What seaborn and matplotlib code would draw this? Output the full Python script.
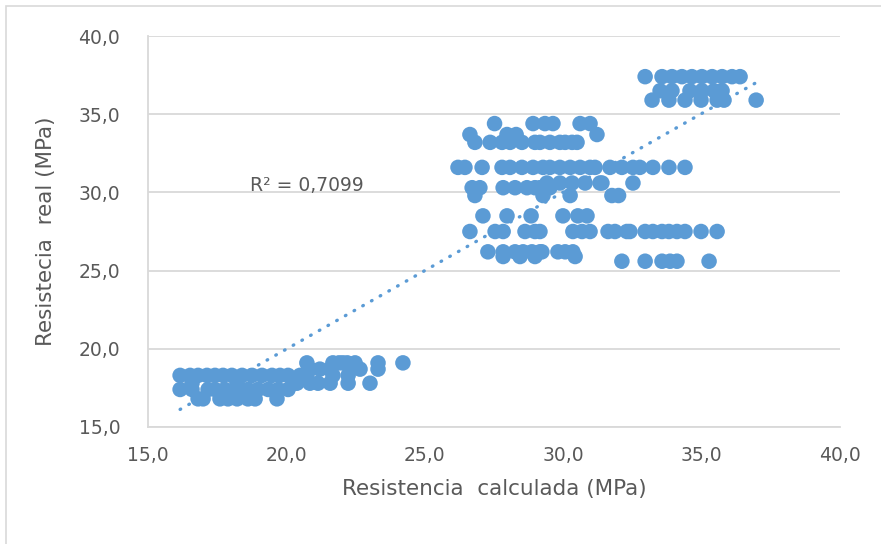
import numpy as np
import pandas as pd
import matplotlib
matplotlib.use("Agg")
import matplotlib.pyplot as plt
from matplotlib.patches import Rectangle
import seaborn as sns

# ---- data: calculated strength (x) grouped by measured strength (y) ----
real_levels = [37.4, 36.5, 35.9, 34.4, 33.7, 33.2, 31.6, 30.6, 30.3, 29.8,
               28.5, 27.5, 26.2, 25.9, 25.6,
               19.1, 18.7, 18.3, 17.8, 17.4, 16.8]

calc_374 = [32.96, 33.57, 33.93, 34.29, 34.65, 35.01, 35.38, 35.74, 36.10, 36.39]
calc_365 = [33.50, 33.93, 34.58, 35.01, 35.45, 35.74]
calc_359 = [33.21, 33.82, 34.40, 34.98, 35.56, 35.81, 36.97]
calc_344 = [27.52, 28.91, 29.34, 29.63, 30.61, 30.97]
calc_337 = [26.63, 27.97, 28.30, 31.22]
calc_332 = [26.81, 27.36, 27.79, 28.08, 28.51, 28.98, 29.16, 29.52, 29.88, 30.07, 30.32, 30.50]
calc_316 = [26.20, 26.45, 27.07, 27.79, 28.08, 28.51, 28.91, 29.27, 29.52, 29.88, 30.25,
            30.61, 30.97, 31.15, 31.69, 32.12, 32.52, 32.77, 33.24, 33.82, 34.40]
calc_306 = [29.41, 29.88, 30.32, 30.79, 31.33, 31.40, 32.52]
calc_303 = [26.71, 26.99, 27.83, 28.26, 28.69, 28.98, 29.16, 29.52]
calc_298 = [26.81, 29.27, 30.25, 31.76, 32.00]
calc_285 = [27.10, 27.97, 28.84, 29.99, 30.53, 30.86]
calc_275 = [26.63, 27.54, 27.83, 28.62, 28.98, 29.16, 30.35, 30.68, 30.97, 31.62, 31.87,
            32.30, 32.41, 32.96, 33.24, 33.57, 33.82, 34.11, 34.40, 34.98, 35.56]
calc_262 = [27.28, 27.83, 28.26, 28.55, 28.87, 29.16, 29.23, 29.81, 30.07, 30.35]
calc_259 = [27.83, 28.44, 28.98, 30.43]
calc_256 = [32.12, 32.96, 33.57, 33.86, 34.11, 35.27]
calc_191 = [20.74, 21.68, 21.90, 22.04, 22.20, 22.48, 23.31, 24.21]
calc_187 = [20.85, 21.21, 21.58, 22.66, 23.31]
calc_183 = [16.16, 16.52, 16.81, 17.13, 17.42, 17.71, 18.03, 18.40, 18.76, 19.12, 19.48,
            19.77, 20.06, 20.49, 20.74, 21.68, 22.23]
calc_178 = [16.59, 18.22, 20.24, 20.38, 20.85, 21.14, 21.58, 22.23, 23.02]
calc_174 = [16.16, 16.59, 17.17, 17.42, 17.78, 18.22, 18.61, 18.97, 19.34, 19.70, 20.06]
calc_168 = [16.81, 16.99, 17.60, 17.89, 18.22, 18.61, 18.87, 19.66]

calc_groups = [calc_374, calc_365, calc_359, calc_344, calc_337, calc_332, calc_316,
               calc_306, calc_303, calc_298, calc_285, calc_275, calc_262, calc_259,
               calc_256, calc_191, calc_187, calc_183, calc_178, calc_174, calc_168]

# linear trend line (as shown on chart) and its R^2 label
trend_slope = 1.004
trend_intercept = -0.10
r2_label = "R² = 0,7099"

x_ticks = [15, 20, 25, 30, 35, 40]
y_ticks = [15, 20, 25, 30, 35, 40]
x_title = "Resistencia  calculada (MPa)"
y_title = "Resistecia  real (MPa)"

# ---- build table ----
xs, ys = [], []
for lvl, grp in zip(real_levels, calc_groups):
    xs.extend(grp)
    ys.extend([lvl] * len(grp))
df = pd.DataFrame({"calc": xs, "real": ys})

# ---- figure ----
W, H = 881, 544
fig = plt.figure(figsize=(W / 100, H / 100), dpi=100)
ax = fig.add_axes([148 / W, 1 - 427 / H, (840 - 148) / W, (427 - 36) / H])

blue = "#5B9BD5"
grey_txt = "#595959"
grid_c = "#D9D9D9"

sns.scatterplot(data=df, x="calc", y="real", ax=ax, s=125, color=blue,
                edgecolor="none", linewidth=0, zorder=3, legend=False)

xl = np.array([min(xs), max(xs)])
ax.plot(xl, trend_slope * xl + trend_intercept, color=blue, lw=2.4,
        linestyle=(0, (0.2, 2.8)), dash_capstyle="round", zorder=4)

ax.set_xlim(15, 40)
ax.set_ylim(15, 40)
ax.set_xticks(x_ticks)
ax.set_yticks(y_ticks)
fmt = lambda v: f"{v:.1f}".replace(".", ",")
ax.set_xticklabels([fmt(v) for v in x_ticks])
ax.set_yticklabels([fmt(v) for v in y_ticks])

fam = ["DejaVu Sans"]
for lab in ax.get_xticklabels() + ax.get_yticklabels():
    lab.set_fontfamily(fam)
    lab.set_fontsize(13.5)
    lab.set_color(grey_txt)
ax.tick_params(length=0, pad=14)
ax.tick_params(axis="y", pad=20)

ax.yaxis.grid(True, color=grid_c, lw=1.3, zorder=0)
ax.xaxis.grid(False)
ax.set_axisbelow(True)
for side in ["top", "right"]:
    ax.spines[side].set_visible(False)
for side in ["left", "bottom"]:
    ax.spines[side].set_color(grid_c)
    ax.spines[side].set_linewidth(1.3)

ax.set_xlabel(x_title, fontsize=15.5, color=grey_txt, family=fam, labelpad=10)
ax.set_ylabel(y_title, fontsize=15.5, color=grey_txt, family=fam, labelpad=16)

ax.text(18.68, 30.47, r2_label, fontsize=13.5, color=grey_txt,
        family=fam, va="center", ha="left")

fig.patches.append(Rectangle((6 / W, -0.1), 1.2, 1 - 6 / H + 0.1,
                             transform=fig.transFigure, fill=False,
                             edgecolor="#D9D9D9", lw=1.2))

fig.savefig("out.png", dpi=100, facecolor="white")
